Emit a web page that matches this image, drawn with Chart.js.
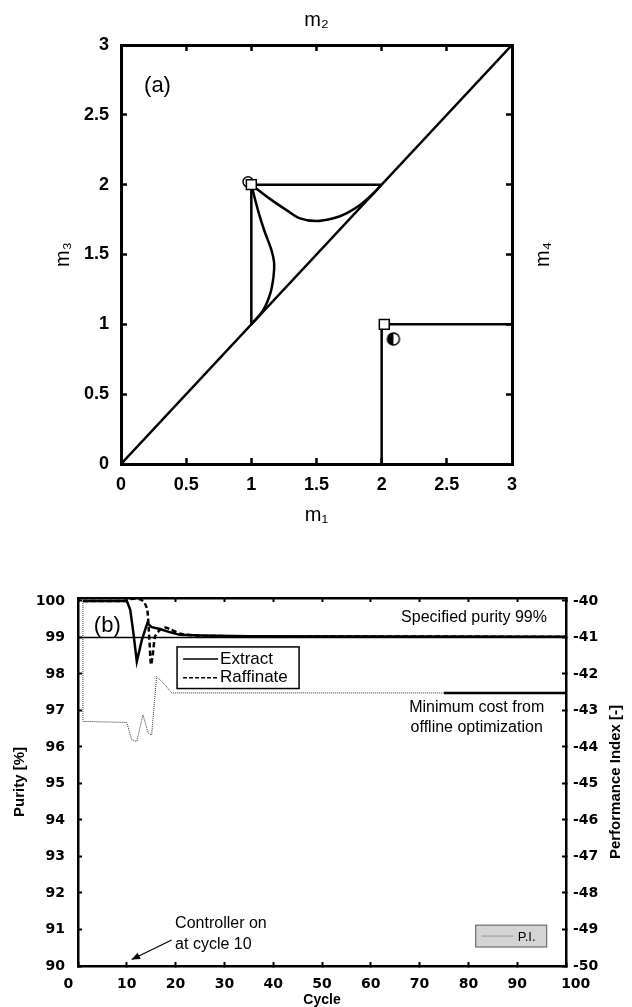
<!DOCTYPE html>
<html>
<head>
<meta charset="UTF-8">
<title>Triangle theory and purity control</title>
<script src="https://cdn.jsdelivr.net/npm/chart.js"></script>
<style>
  body { margin: 0; background: #fff; }
  #wrap { position: relative; width: 632px; height: 1007px; }
  canvas { position: absolute; left: 0; }
  #chartA { top: 0; }
  #chartB { top: 545px; }
</style>
</head>
<body>
<div id="wrap">
  <canvas id="chartA" width="632" height="545"></canvas>
  <canvas id="chartB" width="632" height="462"></canvas>
</div>
<script>
const FONT = '"Liberation Sans", Arial, sans-serif';
const TICKFONT_B = '"DejaVu Sans", sans-serif';

// ---------- panel (a): m1 / m3 plane ----------
const diagonal = [[0, 0], [3, 3]];
const triangleEdge = [[1, 1], [1, 2], [2, 2]];
const cornerEdge = [[2, 0], [2, 1], [3, 1]];
const leftCurve = [[1.0, 2.0], [1.05, 1.82], [1.1, 1.67], [1.155, 1.53], [1.175, 1.44],
                   [1.17, 1.34], [1.145, 1.22], [1.09, 1.1], [1.0, 1.0]];
const upperCurve = [[1.0, 2.0], [1.14, 1.9], [1.27, 1.818], [1.374, 1.759], [1.5, 1.739],
                    [1.63, 1.759], [1.73, 1.795], [1.834, 1.854], [1.936, 1.937], [2.0, 2.0]];
const squarePts = [[1.0, 2.0], [2.02, 1.0]];
const openCirclePts = [[0.975, 2.02]];
const halfCirclePts = [[2.09, 0.895]];

// ---------- panel (b): purity vs cycle ----------
const extractCycle  = [1, 10, 10.7, 11.36, 12.05, 13.1, 14.2, 15.1, 16.8, 18.9, 20.9, 25, 35, 100];
const extractPurity = [100, 100, 99.76, 99.12, 98.34, 98.94, 99.39, 99.28, 99.23, 99.14, 99.07, 99.05, 99.03, 99.02];
const raffCycle  = [1, 10, 10.6, 12.5, 13.5, 14.2, 14.6, 14.95, 15.3, 15.8, 16.8, 17.8, 19, 21, 24, 35, 100];
const raffPurity = [100, 100, 100.05, 100.05, 99.98, 99.76, 99.0, 98.25, 98.5, 99.03, 99.21, 99.27, 99.22, 99.1, 99.05, 99.03, 99.02];
const piCycle = [1, 1, 10, 11, 12.05, 13.3, 14.4, 15.1, 16.1, 17.5, 19.2, 75];
const piValue = [-40, -43.3, -43.33, -43.8, -43.85, -43.12, -43.62, -43.67, -42.07, -42.25, -42.52, -42.52];
const specCycle = [0, 100];
const specPurity = [99, 99];
const optCycle = [75, 100];
const optValue = [-42.52, -42.52];
const cycleTicks = [0, 10, 20, 30, 40, 50, 60, 70, 80, 90, 100];

const pairs = a => a.map(p => ({ x: p[0], y: p[1] }));
const zip = (xs, ys) => xs.map((x, i) => ({ x: x, y: ys[i] }));

function halfDisc(r) {
  const c = document.createElement('canvas');
  c.width = c.height = 2 * r + 4;
  const g = c.getContext('2d');
  const m = r + 2;
  g.beginPath(); g.arc(m, m, r, 0, 2 * Math.PI); g.fillStyle = '#fff'; g.fill();
  g.beginPath(); g.moveTo(m, m - r); g.arc(m, m, r, -Math.PI / 2, Math.PI / 2, true);
  g.closePath(); g.fillStyle = '#000'; g.fill();
  g.beginPath(); g.arc(m, m, r, 0, 2 * Math.PI); g.lineWidth = 1.5; g.strokeStyle = '#000'; g.stroke();
  return c;
}

function vText(ctx, txt, x, y) {
  ctx.save();
  ctx.translate(x, y);
  ctx.rotate(-Math.PI / 2);
  ctx.fillText(txt, 0, 0);
  ctx.restore();
}

function fixed(size, horizontal) {
  return horizontal ? s => { s.height = size; } : s => { s.width = size; };
}

Chart.defaults.animation = false;
Chart.defaults.plugins.legend.display = false;
Chart.defaults.plugins.tooltip.enabled = false;

// ---- chart (a)
const lineA = (data, extra) => Object.assign({
  data: pairs(data), showLine: true, borderColor: '#000', borderWidth: 2.5,
  pointRadius: 0, fill: false
}, extra || {});

function axisA(pos, showLabels, size, pad) {
  return {
    type: 'linear', position: pos, min: 0, max: 3,
    border: { display: true, width: 3, color: '#000' },
    grid: { drawOnChartArea: false, tickLength: -6, tickWidth: 2.5, tickColor: '#000' },
    ticks: { display: showLabels, stepSize: 0.5, color: '#000', padding: pad,
             maxRotation: 0, minRotation: 0, autoSkip: false,
             callback: v => String(v),
             font: { family: FONT, size: 18, weight: 'bold' } },
    afterFit: fixed(size, pos === 'top' || pos === 'bottom')
  };
}

const textsA = {
  id: 'textsA',
  afterDraw(chart) {
    const ctx = chart.ctx, a = chart.chartArea;
    const cx = (a.left + a.right) / 2, cy = (a.top + a.bottom) / 2;
    ctx.save();
    ctx.fillStyle = '#000';
    ctx.textAlign = 'center';
    ctx.textBaseline = 'middle';
    ctx.font = '20px ' + FONT;
    ctx.fillText('m\u2081', cx, 515);
    ctx.fillText('m\u2082', cx, 20);
    vText(ctx, 'm\u2083', 63, cy);
    vText(ctx, 'm\u2084', 543, cy);
    ctx.font = '22px ' + FONT;
    ctx.fillText('(a)', chart.scales.x.getPixelForValue(0.28), chart.scales.y.getPixelForValue(2.71));
    ctx.restore();
  }
};

new Chart(document.getElementById('chartA'), {
  type: 'scatter',
  data: {
    datasets: [
      { data: pairs(squarePts), pointStyle: 'rect', pointRadius: 7, backgroundColor: '#fff',
        borderColor: '#000', borderWidth: 1.5 },
      { data: pairs(halfCirclePts), pointStyle: halfDisc(6), pointRadius: 6 },
      { data: pairs(openCirclePts), pointStyle: 'circle', pointRadius: 5, backgroundColor: '#fff',
        borderColor: '#000', borderWidth: 1.5 },
      lineA(diagonal),
      lineA(triangleEdge),
      lineA(cornerEdge),
      lineA(leftCurve, { tension: 0.35 }),
      lineA(upperCurve, { tension: 0.35 })
    ]
  },
  options: {
    responsive: false,
    layout: { padding: 0 },
    scales: {
      x: axisA('bottom', true, 81, 16),
      x2: axisA('top', false, 45, 0),
      y: axisA('left', true, 121, 18),
      y2: axisA('right', false, 120, 0)
    }
  },
  plugins: [textsA]
});

// ---- chart (b)
function axisB(pos, opts) {
  const horiz = pos === 'top' || pos === 'bottom';
  return {
    type: 'linear', position: pos, bounds: 'data',
    min: opts.min, max: opts.max,
    border: { display: true, width: 2.5, color: '#000' },
    grid: { drawOnChartArea: false, tickLength: -4, tickWidth: 2, tickColor: '#000' },
    ticks: { display: opts.labels, stepSize: opts.step, includeBounds: false, color: '#000',
             padding: opts.pad, callback: opts.cb || (v => String(v)),
             maxRotation: 0, minRotation: 0, autoSkip: false,
             font: { family: TICKFONT_B, size: 14, weight: 'bold' } },
    afterFit: fixed(opts.size, horiz)
  };
}

const textsB = {
  id: 'textsB',
  afterDraw(chart) {
    const ctx = chart.ctx, a = chart.chartArea;
    const X = v => chart.scales.x.getPixelForValue(v);
    const Y = v => chart.scales.y.getPixelForValue(v);
    const cy = (a.top + a.bottom) / 2;
    ctx.save();
    ctx.fillStyle = '#000';
    ctx.strokeStyle = '#000';
    ctx.textBaseline = 'middle';

    // axis titles
    ctx.textAlign = 'center';
    ctx.font = 'bold 15px ' + FONT;
    vText(ctx, 'Purity [%]', 20, cy);
    vText(ctx, 'Performance Index [-]', 616, cy);
    ctx.font = 'bold 14px ' + FONT;
    ctx.fillText('Cycle', (a.left + a.right) / 2, 455);

    // panel tag and notes
    ctx.font = '22px ' + FONT;
    ctx.fillText('(b)', X(6), Y(99.31));
    ctx.font = '16px ' + FONT;
    ctx.textAlign = 'right';
    ctx.fillText('Specified purity 99%', X(96.1), Y(99.55));
    ctx.textAlign = 'center';
    ctx.fillText('Minimum cost from', X(81.7), Y(97.07));
    ctx.fillText('offline optimization', X(81.7), Y(96.52));
    ctx.textAlign = 'left';
    ctx.fillText('Controller on', X(19.9), Y(91.15));
    ctx.fillText('at cycle 10', X(19.9), Y(90.58));

    // arrow to cycle 10
    const tx = X(11.0), ty = Y(90.18), sx = X(19.2), sy = Y(90.71);
    const ang = Math.atan2(ty - sy, tx - sx);
    ctx.lineWidth = 1.2;
    ctx.beginPath(); ctx.moveTo(sx, sy); ctx.lineTo(tx, ty); ctx.stroke();
    ctx.beginPath();
    ctx.moveTo(tx, ty);
    ctx.lineTo(tx - 9 * Math.cos(ang - 0.4), ty - 9 * Math.sin(ang - 0.4));
    ctx.lineTo(tx - 9 * Math.cos(ang + 0.4), ty - 9 * Math.sin(ang + 0.4));
    ctx.closePath(); ctx.fill();

    // legend: Extract / Raffinate
    let x0 = X(20.3), x1 = X(45.3), y0 = Y(98.74), y1 = Y(97.6);
    ctx.fillStyle = '#fff';
    ctx.fillRect(x0, y0, x1 - x0, y1 - y0);
    ctx.lineWidth = 1.5;
    ctx.strokeRect(x0, y0, x1 - x0, y1 - y0);
    const r1 = y0 + (y1 - y0) * 0.29, r2 = y0 + (y1 - y0) * 0.74;
    ctx.beginPath(); ctx.moveTo(x0 + 6, r1); ctx.lineTo(x0 + 41, r1); ctx.stroke();
    ctx.setLineDash([4, 2]);
    ctx.beginPath(); ctx.moveTo(x0 + 6, r2); ctx.lineTo(x0 + 41, r2); ctx.stroke();
    ctx.setLineDash([]);
    ctx.fillStyle = '#000';
    ctx.font = '17px ' + FONT;
    ctx.fillText('Extract', x0 + 43, r1);
    ctx.fillText('Raffinate', x0 + 43, r2);

    // legend: P.I.
    x0 = X(81.5); x1 = X(96.05); y0 = Y(91.12); y1 = Y(90.52);
    ctx.fillStyle = '#d4d4d4';
    ctx.fillRect(x0, y0, x1 - x0, y1 - y0);
    ctx.strokeStyle = '#555';
    ctx.lineWidth = 1;
    ctx.strokeRect(x0, y0, x1 - x0, y1 - y0);
    const rm = (y0 + y1) / 2;
    ctx.setLineDash([1, 1]);
    ctx.beginPath(); ctx.moveTo(x0 + 6, rm); ctx.lineTo(x0 + 37, rm); ctx.stroke();
    ctx.setLineDash([]);
    ctx.fillStyle = '#000';
    ctx.font = '13px ' + FONT;
    ctx.fillText('P.I.', x0 + 42, rm + 1);
    ctx.restore();
  }
};

new Chart(document.getElementById('chartB'), {
  type: 'scatter',
  data: {
    datasets: [
      { data: zip(extractCycle, extractPurity), showLine: true, borderColor: '#000',
        borderWidth: 2.5, pointRadius: 0, yAxisID: 'y' },
      { data: zip(raffCycle, raffPurity), showLine: true, borderColor: '#000',
        borderWidth: 2.5, borderDash: [5, 3], pointRadius: 0, yAxisID: 'y', tension: 0.2 },
      { data: zip(optCycle, optValue), showLine: true, borderColor: '#000',
        borderWidth: 2.5, pointRadius: 0, yAxisID: 'pi' },
      { data: zip(specCycle, specPurity), showLine: true, borderColor: '#000',
        borderWidth: 1.5, pointRadius: 0, yAxisID: 'y' },
      { data: zip(piCycle, piValue), showLine: true, borderColor: '#333',
        borderWidth: 1, borderDash: [1, 1], pointRadius: 0, yAxisID: 'pi' }
    ]
  },
  options: {
    responsive: false,
    layout: { padding: 0 },
    scales: {
      x: axisB('bottom', { size: 41, min: 0, max: 100, step: 10, labels: true, pad: 14,
        cb: v => v === cycleTicks[0] ? v + '\u2007\u2007'
             : v === cycleTicks[cycleTicks.length - 1] ? '\u2007\u2007' + v : String(v) }),
      x2: axisB('top', { size: 53, min: 0, max: 100, step: 10, labels: false, pad: 0 }),
      y: axisB('left', { size: 78, min: 90, max: 100.08, step: 1, labels: true, pad: 17 }),
      pi: axisB('right', { size: 66, min: -50, max: -39.92, step: 1, labels: true, pad: 11 })
    }
  },
  plugins: [textsB]
});
</script>
</body>
</html>
